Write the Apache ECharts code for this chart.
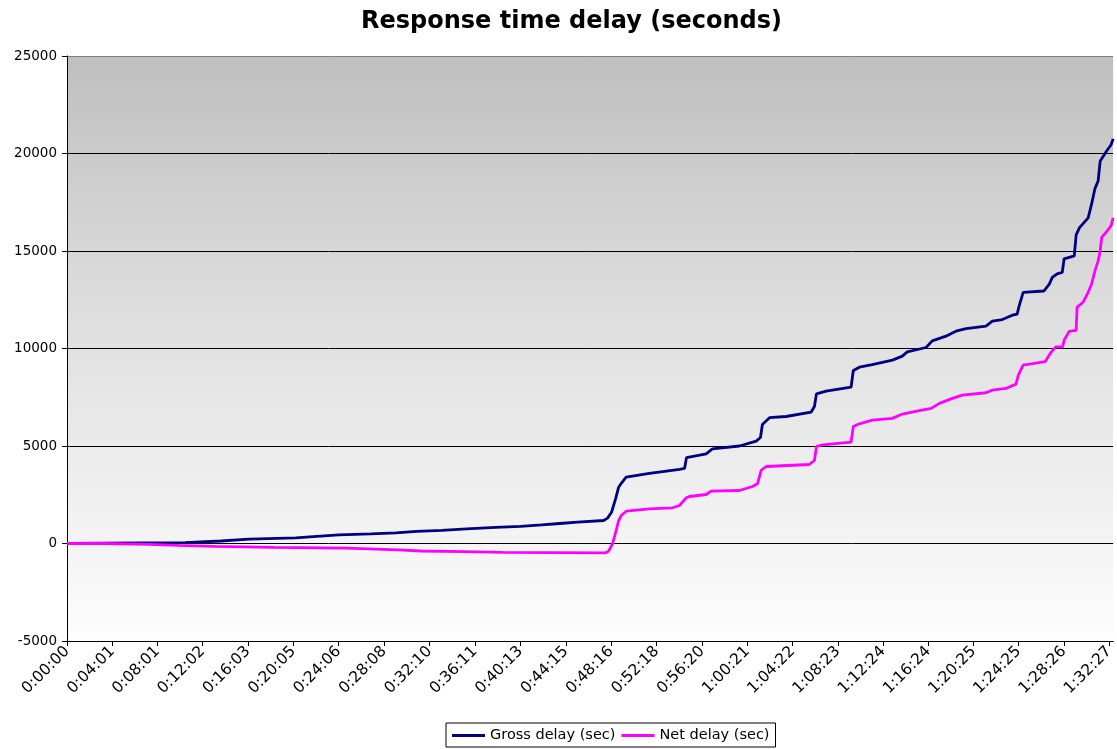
<!DOCTYPE html>
<html>
<head>
<meta charset="utf-8">
<title>Response time delay (seconds)</title>
<script src="https://cdn.jsdelivr.net/npm/echarts@6/dist/echarts.min.js"></script>
<style>
  html, body { margin: 0; padding: 0; background: #fff; }
  #chart { width: 1117px; height: 749px; }
</style>
</head>
<body>
<div id="chart"></div>
<script>
// Elapsed time (h:mm:ss) shown under the axis ticks
const tickLabels = ['0:00:00', '0:04:01', '0:08:01', '0:12:02', '0:16:03', '0:20:05', '0:24:06',
  '0:28:08', '0:32:10', '0:36:11', '0:40:13', '0:44:15', '0:48:16', '0:52:18', '0:56:20',
  '1:00:21', '1:04:22', '1:08:23', '1:12:24', '1:16:24', '1:20:25', '1:24:25', '1:28:26', '1:32:27'];

// Gross delay: elapsed seconds and cumulative delay in seconds
const grossTime = [0, 191, 628, 633, 819, 824, 968, 973, 1218, 1223, 1330, 1335, 1447, 1452, 1617, 1622,
  1750, 1755, 1861, 1867, 1994, 2000, 2127, 2133, 2281, 2287, 2414, 2420, 2526, 2531, 2622, 2627, 2718, 2723,
  2856, 2877, 2898, 2920, 2936, 2951, 2976, 3100, 3260, 3287, 3297, 3402, 3435, 3579, 3668, 3691, 3701, 3739,
  3827, 3960, 3978, 3989, 4040, 4173, 4185, 4217, 4286, 4393, 4446, 4472, 4572, 4605, 4678, 4731, 4785, 4891,
  4925, 4978, 5031, 5057, 5068, 5089, 5199, 5228, 5244, 5270, 5297, 5307, 5361, 5371, 5389, 5435, 5453, 5471,
  5488, 5499, 5534, 5557, 5568];
const grossDelay = [0, 20, 40, 128, 128, 220, 220, 293, 293, 366, 366, 440, 440, 494, 494, 549,
  549, 623, 623, 678, 678, 751, 751, 824, 824, 879, 879, 952, 952, 1026, 1026, 1099, 1099, 1160,
  1180, 1300, 1600, 2300, 2887, 3100, 3400, 3600, 3800, 3850, 4400, 4600, 4850, 5000, 5250, 5436, 6100, 6450,
  6513, 6733, 7025, 7677, 7810, 8015, 8872, 9041, 9179, 9403, 9608, 9829, 10051, 10393, 10631, 10887, 11024, 11143,
  11399, 11485, 11707, 11760, 12200, 12881, 12948, 13300, 13650, 13830, 13900, 14600, 14750, 15828, 16200, 16700, 17400, 18200,
  18586, 19621, 20138, 20450, 20750];

// Net delay: elapsed seconds and cumulative delay in seconds
const netTime = [0, 191, 197, 436, 441, 590, 596, 782, 787, 1101, 1106, 1484, 1489, 1760, 1766, 1883, 1888,
  2111, 2117, 2319, 2324, 2866, 2882, 2904, 2923, 2936, 2951, 2976, 3100, 3223, 3260, 3296, 3313, 3402, 3428,
  3579, 3648, 3675, 3694, 3721, 3951, 3978, 3989, 4021, 4173, 4185, 4217, 4286, 4393, 4446, 4536, 4599, 4643,
  4712, 4765, 4891, 4925, 4997, 5051, 5063, 5089, 5206, 5233, 5263, 5299, 5307, 5334, 5371, 5376, 5408, 5435,
  5453, 5471, 5488, 5499, 5507, 5534, 5557, 5568];
const netDelay = [0, 0, -40, -40, -92, -92, -146, -146, -200, -200, -238, -238, -330, -330, -385, -385, -421,
  -421, -458, -458, -476, -476, -400, 0, 667, 1180, 1450, 1656, 1780, 1831, 1949, 2344, 2410, 2513, 2682,
  2718, 2923, 3061, 3743, 3949, 4051, 4256, 4974, 5061, 5195, 6000, 6138, 6331, 6416, 6638, 6809, 6928, 7184,
  7440, 7611, 7730, 7867, 7952, 8174, 8635, 9153, 9322, 9746, 10085, 10085, 10424, 10881, 10932, 12119, 12373, 12881,
  13305, 13983, 14492, 15000, 15700, 16000, 16300, 16700];

const seriesNames = ['Gross delay (sec)', 'Net delay (sec)'];

// Axis positions of the time labels, in seconds
const toSeconds = s => s.split(':').map(Number).reduce((acc, n) => acc * 60 + n, 0);
const tickSeconds = tickLabels.map(toSeconds);
const labelAt = {};
tickLabels.forEach((l, i) => { labelAt[tickSeconds[i]] = l; });

const pairs = (xs, ys) => xs.map((x, i) => [x, ys[i]]);

const FONT = 'DejaVu Sans';
const chart = echarts.init(document.getElementById('chart'), null, { renderer: 'canvas' });

chart.setOption({
  animation: false,
  backgroundColor: '#ffffff',
  title: {
    text: 'Response time delay (seconds)',
    left: 356,
    top: 5,
    textStyle: { fontFamily: FONT, fontSize: 24, fontWeight: 'bold', color: '#000' }
  },
  grid: {
    left: 67, right: 3, top: 56, bottom: 108,
    show: true,
    borderWidth: 0,
    backgroundColor: {
      type: 'linear', x: 0, y: 0, x2: 0, y2: 1,
      colorStops: [
        { offset: 0, color: '#bfbfbf' },
        { offset: 0.5, color: '#e2e2e2' },
        { offset: 1, color: '#fdfdfd' }
      ]
    }
  },
  legend: {
    data: seriesNames,
    left: 446,
    top: 723,
    orient: 'horizontal',
    backgroundColor: '#fff',
    borderColor: '#000',
    borderWidth: 1,
    padding: [5, 6, 4, 6],
    itemGap: 6,
    itemWidth: 33,
    itemHeight: 3,
    icon: 'rect',
    textStyle: { fontFamily: FONT, fontSize: 14.5, color: '#000' }
  },
  xAxis: {
    type: 'value',
    min: 0,
    max: 5568,
    axisLine: { show: true, onZero: false, lineStyle: { color: '#000', width: 1 } },
    axisTick: { show: true, length: 5, customValues: tickSeconds, lineStyle: { color: '#000' } },
    axisLabel: {
      customValues: tickSeconds,
      rotate: 45,
      margin: 8,
      fontFamily: FONT,
      fontSize: 15.5,
      color: '#000',
      formatter: v => labelAt[v] || ''
    },
    splitLine: { show: false }
  },
  yAxis: {
    type: 'value',
    min: -5000,
    max: 25000,
    interval: 5000,
    axisLine: { show: true, lineStyle: { color: '#000', width: 1 } },
    axisTick: { show: true, length: 5, lineStyle: { color: '#000' } },
    axisLabel: {
      margin: 10, fontFamily: FONT, fontSize: 13.5, color: '#000',
      formatter: v => String(v)
    },
    splitLine: {
      show: true,
      lineStyle: { color: ['#000', '#000', '#000', '#000', '#000', '#000', '#808080'], width: 1 }
    }
  },
  series: [
    {
      name: seriesNames[0],
      type: 'line',
      data: pairs(grossTime, grossDelay),
      showSymbol: false,
      symbol: 'none',
      color: '#000080',
      lineStyle: { color: '#000080', width: 2.8 }
    },
    {
      name: seriesNames[1],
      type: 'line',
      data: pairs(netTime, netDelay),
      showSymbol: false,
      symbol: 'none',
      color: '#ff00ff',
      lineStyle: { color: '#ff00ff', width: 2.8 }
    }
  ]
});
</script>
</body>
</html>
